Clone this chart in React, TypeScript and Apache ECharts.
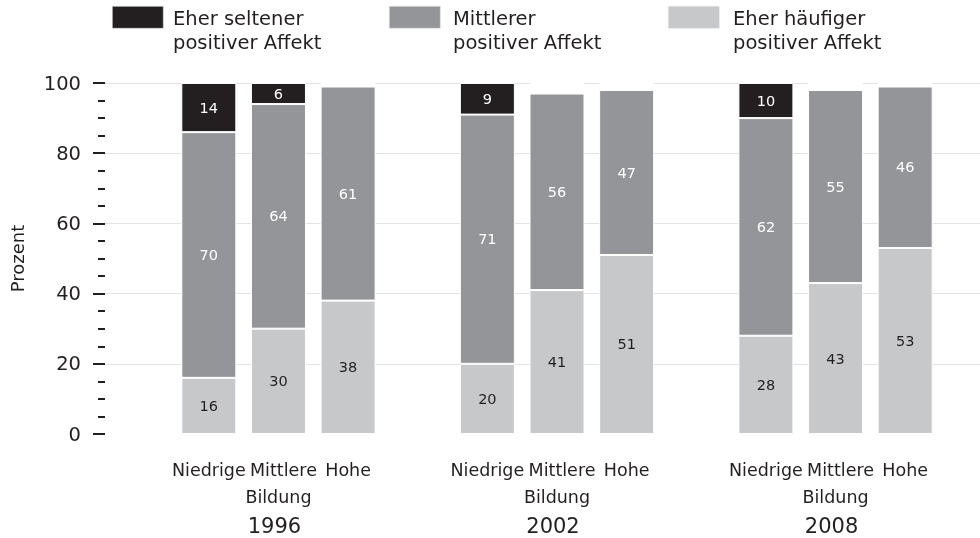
import React, { useEffect, useRef } from 'react';
import * as echarts from 'echarts';

const years = ['1996', '2002', '2008'];
const bildung = ['Niedrige', 'Mittlere', 'Hohe'];
const nameSelten = 'Eher seltener\npositiver Affekt';
const nameMittel = 'Mittlerer\npositiver Affekt';
const nameHaeufig = 'Eher häufiger\npositiver Affekt';
// order: 1996 N/M/H, 2002 N/M/H, 2008 N/M/H
const haeufig = [16, 30, 38, 20, 41, 51, 28, 43, 53];
const mittel = [70, 64, 61, 71, 56, 47, 62, 55, 46];
const selten = [14, 6, 1, 9, 3, 2, 10, 2, 1];

const FONT = 'DejaVu Sans';
const INK = '#231f20';
const C_DARK = '#231f20';
const C_MID = '#939598';
const C_LIGHT = '#c7c8ca';

type Slot = { gap: boolean; i: number; g: number; b: number };
const slots: Slot[] = [];
years.forEach((_, g) => {
  bildung.forEach((__, b) => slots.push({ gap: false, i: g * 3 + b, g, b }));
  if (g < years.length - 1) slots.push({ gap: true, i: -1, g, b: -1 });
});

const legendItems = [
  { name: nameSelten, color: C_DARK, x: 112, tx: 173 },
  { name: nameMittel, color: C_MID, x: 389, tx: 453 },
  { name: nameHaeufig, color: C_LIGHT, x: 668, tx: 733 },
];

export default function App() {
  const ref = useRef<HTMLDivElement>(null);
  useEffect(() => {
    if (!ref.current) return;
    const chart = echarts.init(ref.current, undefined, { renderer: 'svg' });

    const mk = (vals: number[], fn: (v: number) => any) =>
      slots.map((s) => (s.gap ? '-' : fn(vals[s.i])));

    const barBase = {
      type: 'bar',
      xAxisIndex: 0,
      yAxisIndex: 0,
      stack: 'total',
      barWidth: 55,
    };

    const graphic: any[] = [];
    legendItems.forEach((it) => {
      graphic.push({
        type: 'rect',
        left: it.x,
        top: 6,
        shape: { width: 51, height: 22 },
        style: { fill: it.color, stroke: '#e4e4e4', lineWidth: 0.6 },
      });
      graphic.push({
        type: 'text',
        left: it.tx,
        top: 6,
        style: {
          text: it.name,
          fill: INK,
          font: `19.5px "${FONT}"`,
          lineHeight: 24,
        },
      });
    });

    const option: any = {
      animation: false,
      textStyle: { fontFamily: FONT },
      graphic,
      grid: [
        { left: 174, right: 40, top: 83, bottom: 104 },
        { left: 104, right: 0, top: 83, bottom: 104 },
      ],
      xAxis: [
        {
          type: 'category',
          gridIndex: 0,
          data: slots.map((s, k) => 's' + k),
          axisLine: { show: false },
          axisTick: { show: false },
          axisLabel: {
            interval: 0,
            margin: 22,
            color: INK,
            fontFamily: FONT,
            formatter: (_v: string, idx: number) => {
              const s = slots[idx];
              if (!s || s.gap) return '';
              if (s.b === 1)
                return `{m|${bildung[s.b]}}\n{b|Bildung}\n{y|${years[s.g]}}`;
              return `{a|${bildung[s.b]}}`;
            },
            rich: {
              a: { fontFamily: FONT, fontSize: 17.5, lineHeight: 27, color: INK },
              m: { fontFamily: FONT, fontSize: 17.5, lineHeight: 27, color: INK, padding: [0, 0, 0, 10] },
              b: { fontFamily: FONT, fontSize: 17.5, lineHeight: 27, color: INK },
              y: { fontFamily: FONT, fontSize: 21, lineHeight: 31, color: INK, padding: [0, 8, 0, 0] },
            },
          },
        },
        { type: 'category', gridIndex: 1, data: [''], show: false },
      ],
      yAxis: [
        { type: 'value', gridIndex: 0, min: 0, max: 100, show: false },
        {
          type: 'value',
          gridIndex: 1,
          min: 0,
          max: 100,
          interval: 20,
          name: 'Prozent',
          nameLocation: 'middle',
          nameGap: 79,
          nameTextStyle: { fontFamily: FONT, fontSize: 18, color: INK },
          axisLine: { show: false },
          axisTick: { show: true, length: 12, lineStyle: { color: INK, width: 2 } },
          minorTick: { show: true, splitNumber: 4, length: 7, lineStyle: { color: INK, width: 2 } },
          axisLabel: { margin: 24, fontFamily: FONT, fontSize: 19.5, color: INK },
          splitLine: {
            show: true,
            lineStyle: {
              color: ['rgba(0,0,0,0)', '#e3e3e3', '#e3e3e3', '#e3e3e3', '#e3e3e3', '#e3e3e3'],
              width: 1,
            },
          },
        },
      ],
      series: [
        {
          ...barBase,
          name: nameHaeufig,
          color: C_LIGHT,
          itemStyle: { color: C_LIGHT, borderColor: '#ffffff', borderWidth: 1 },
          label: { show: true, position: 'inside', color: INK, fontSize: 14.5, fontFamily: FONT },
          data: mk(haeufig, (v) => v),
        },
        {
          ...barBase,
          name: nameMittel,
          color: C_MID,
          itemStyle: { color: C_MID, borderColor: '#ffffff', borderWidth: 1 },
          label: { show: true, position: 'inside', color: '#ffffff', fontSize: 14.5, fontFamily: FONT },
          data: mk(mittel, (v) => v),
        },
        {
          ...barBase,
          name: nameSelten,
          color: C_DARK,
          itemStyle: { color: C_DARK, borderColor: '#ffffff', borderWidth: 1 },
          label: { show: true, position: 'inside', color: '#ffffff', fontSize: 14.5, fontFamily: FONT },
          data: mk(selten, (v) =>
            v < 5
              ? { value: v, itemStyle: { color: '#ffffff' }, label: { show: v >= 3 } }
              : v
          ),
        },
      ],
    };
    chart.setOption(option);
    return () => chart.dispose();
  }, []);
  return (
    <div
      ref={ref}
      style={{ position: 'fixed', left: 0, top: 0, width: 980, height: 538 }}
    />
  );
}
